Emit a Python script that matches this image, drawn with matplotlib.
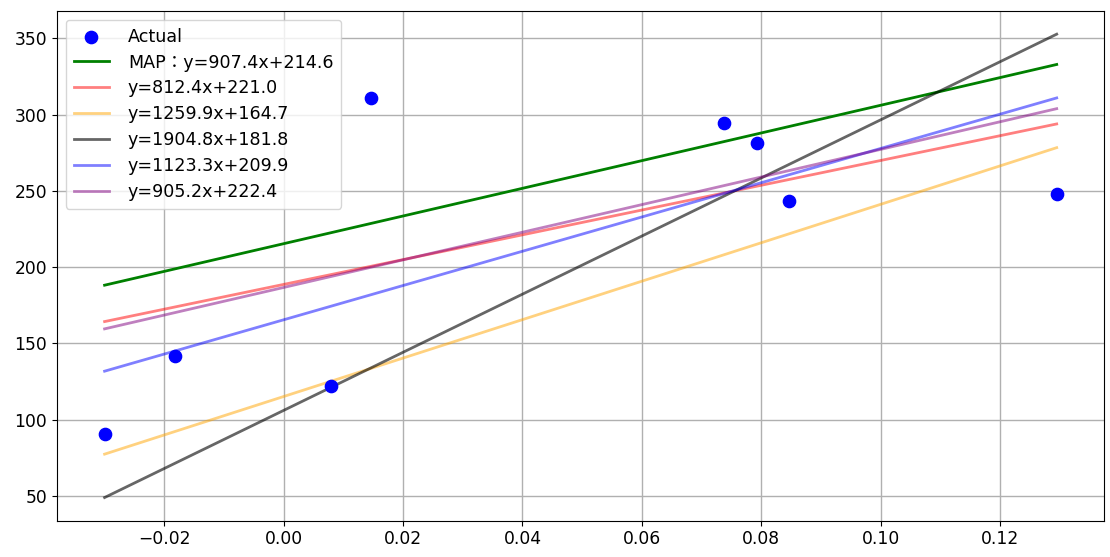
import numpy as np
import matplotlib
matplotlib.use("Agg")
import matplotlib.pyplot as plt

plt.rcParams['font.family'] = ['DejaVu Sans', 'Noto Sans CJK JP']
plt.rcParams['font.size'] = 12.3
plt.rcParams['axes.unicode_minus'] = True

# Actual observations
x_actual = [-0.0300, -0.0182, 0.0079, 0.0147, 0.0737, 0.0793, 0.0847, 0.1295]
y_actual = [90.3, 141.5, 122.0, 310.8, 294.7, 281.4, 243.5, 248.2]

# Fitted lines (slope, intercept as drawn) and their legend labels
labels = ["MAP：y=907.4x+214.6", "y=812.4x+221.0", "y=1259.9x+164.7",
          "y=1904.8x+181.8", "y=1123.3x+209.9", "y=905.2x+222.4"]
slopes = [907.4, 812.4, 1259.9, 1904.8, 1123.3, 905.2]
intercepts = [215.3, 188.6, 115.1, 106.0, 165.4, 186.6]
colors = ["green", "red", "orange", "black", "blue", "purple"]
alphas = [1.0, 0.5, 0.5, 0.6, 0.5, 0.5]

fig = plt.figure(figsize=(11.10, 5.57), dpi=100)
ax = fig.add_axes([57 / 1110, 1 - 520.7 / 557, (1104.3 - 57) / 1110, (520.7 - 11) / 557])

ax.scatter(x_actual, y_actual, color="blue", s=78, label="Actual", zorder=3)
xs = np.array([min(x_actual), max(x_actual)])
for lab, m, b, c, a in zip(labels, slopes, intercepts, colors, alphas):
    ax.plot(xs, m * xs + b, color=c, alpha=a, lw=2.0, label=lab)

ax.grid(True, color="#b0b0b0", lw=1.0)
ax.set_axisbelow(True)
ax.legend(loc="upper left", fontsize=12.6, labelspacing=0.45,
          handletextpad=1.1, borderpad=0.45)
fig.savefig("out.png", dpi=100)
